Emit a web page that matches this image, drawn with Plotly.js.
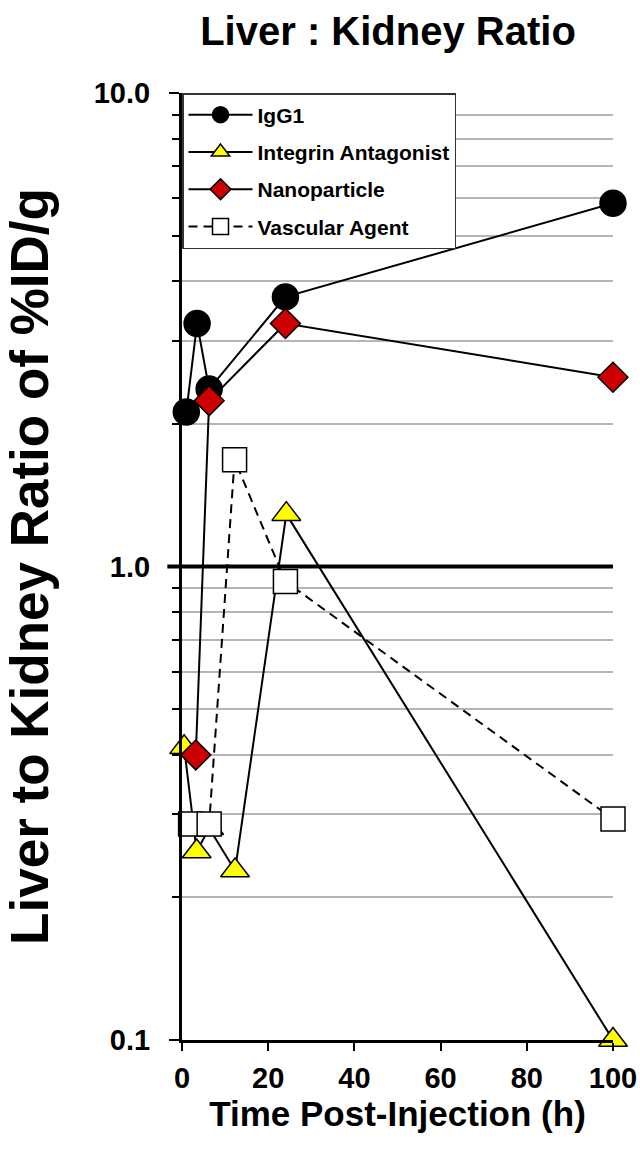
<!DOCTYPE html>
<html>
<head>
<meta charset="utf-8">
<script src="https://cdn.plot.ly/plotly-3.0.1.min.js"></script>
<style>
html,body{margin:0;padding:0;background:#fff;}
#chart{width:640px;height:1165px;}
</style>
</head>
<body>
<div id="chart"></div>
<script>
// ---- data ----
var seriesNames = ["IgG1", "Integrin Antagonist", "Nanoparticle", "Vascular Agent"];

var igg1Time  = [1, 3.5, 6.3, 24, 100];
var igg1Ratio = [2.12, 3.26, 2.37, 3.71, 5.85];

var integrinTime  = [0.5, 3.4, 6.3, 12.3, 24.2, 100];
var integrinRatio = [0.415, 0.25, 0.28, 0.228, 1.29, 0.1];

var nanoTime  = [3.2, 6.3, 24, 100];
var nanoRatio = [0.40, 2.24, 3.26, 2.51];

var vascTime  = [2, 6.3, 12.2, 24, 100];
var vascRatio = [0.286, 0.286, 1.68, 0.93, 0.293];

var xTickVals = [0, 20, 40, 60, 80, 100];
var xTickText = ["0", "20", "40", "60", "80", "100"];
var yTickVals = [0.1, 1, 10];
var yTickText = ["0.1", "1.0", "10.0"];
var yGridVals = [0.2, 0.3, 0.4, 0.5, 0.6, 0.7, 0.8, 0.9, 2, 3, 4, 5, 6, 7, 8, 9, 10];
var referenceRatio = 1;

// ---- styling ----
var SANS = "'Liberation Sans', Arial, sans-serif";

function tr(name, x, y, symbol, size, fill, dash, group) {
  return {
    type: 'scatter', mode: 'lines+markers', name: name, x: x, y: y,
    cliponaxis: false, legendgroup: group,
    line: {color: '#000', width: 2, dash: dash},
    marker: {symbol: symbol, size: size, color: fill, line: {color: '#000', width: 1.5}}
  };
}

var data = [
  tr(seriesNames[0], igg1Time, igg1Ratio, 'circle', 26, '#000000', 'solid', 'a'),
  tr(seriesNames[1], integrinTime, integrinRatio, 'triangle-up', 25, '#ffff00', 'solid', 'b'),
  tr(seriesNames[2], nanoTime, nanoRatio, 'diamond', 23, '#cc0000', 'solid', 'c'),
  tr(seriesNames[3], vascTime, vascRatio, 'square', 24, '#ffffff', '9px,6px', 'd')
];

var layout = {
  width: 640, height: 1165,
  margin: {l: 182, r: 27, t: 93, b: 125},
  paper_bgcolor: '#fff', plot_bgcolor: '#fff',
  showlegend: true,
  title: {
    text: 'Liver : Kidney Ratio',
    xref: 'container', x: 388 / 640, xanchor: 'center',
    yref: 'container', y: 1 - 31 / 1165, yanchor: 'middle',
    font: {family: SANS, size: 40, color: '#000', weight: 'bold'}
  },
  xaxis: {
    range: [0, 100], tickvals: xTickVals, ticktext: xTickText,
    showgrid: false, zeroline: false,
    showline: true, linecolor: '#000', linewidth: 3,
    ticks: 'outside', ticklen: 8, tickwidth: 2, tickcolor: '#000',
    ticklabelstandoff: 2, ticklabeloverflow: 'allow',
    tickfont: {family: SANS, size: 29, color: '#000', weight: 'bold'},
    title: {text: 'Time Post-Injection (h)', standoff: 6,
            font: {family: SANS, size: 35, color: '#000', weight: 'bold'}}
  },
  yaxis: {
    type: 'log', range: [-1, 1], tickvals: yTickVals, ticktext: yTickText,
    showgrid: false, zeroline: false,
    showline: true, linecolor: '#000', linewidth: 3,
    ticks: 'outside', ticklen: 10, tickwidth: 2, tickcolor: '#000',
    ticklabelstandoff: 13, ticklabeloverflow: 'allow',
    tickfont: {family: SANS, size: 29, color: '#000', weight: 'bold'},
    minor: {tickvals: yGridVals, ticks: 'outside', ticklen: 7, tickwidth: 2, tickcolor: '#000',
            showgrid: true, gridcolor: '#b5b5b5', gridwidth: 2},
    title: {text: 'Liver to Kidney Ratio of %ID/g', standoff: 39,
            font: {family: SANS, size: 53, color: '#000', weight: 'bold'}}
  },
  legend: {
    x: 0, xanchor: 'left', y: 1, yanchor: 'top',
    bgcolor: '#fff', bordercolor: '#333', borderwidth: 1.5,
    font: {family: SANS, size: 21, color: '#000', weight: 'bold'},
    tracegroupgap: 7, itemwidth: 64, itemsizing: 'trace'
  },
  shapes: [{
    type: 'line', xref: 'paper', yref: 'y', x0: -0.034, x1: 1, y0: referenceRatio, y1: referenceRatio,
    line: {color: '#000', width: 4}, layer: 'below'
  }]
};

Plotly.newPlot('chart', data, layout, {staticPlot: true, displayModeBar: false});
</script>
</body>
</html>
